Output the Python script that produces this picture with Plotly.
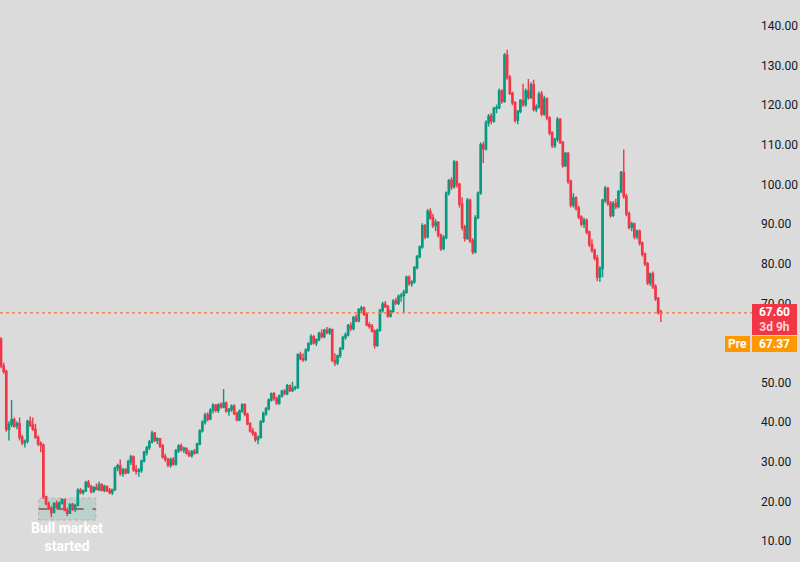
import plotly.graph_objects as go

# ---- data ----
open_ = [61, 54.2, 52.8, 38.2, 39.4, 40.6, 39, 39.6, 36.2, 34.8, 35.2, 40.2, 39.2, 38.2, 36.2, 34.6, 34.2,
         21.2, 19.4, 18.2, 17.2, 19.5, 18.5, 19.6, 20.4, 17.8, 17, 19.2, 18, 19,
         22.8, 22.2, 22.7, 24.8, 23.8, 22.5, 23.5, 23, 24.2, 22.8, 23.8, 22.7, 22.2, 23, 28.4, 29, 27, 28, 27.2,
         30, 31.2, 28, 27.6, 27.8, 30.2, 32.4, 33.6, 35, 37.2, 35.4, 35.8, 34, 31.2, 30.6, 29.2, 30.6, 29.4,
         32.8, 34, 33, 33.4, 32.2, 31.6, 32.6, 32.2, 34.5, 37.8, 40, 41.8, 40.8, 43, 44.2, 43, 44.4, 43.8,
         44.8, 42.8, 43.2, 44, 42.2, 40.6, 42.8, 44.4, 42, 39.6, 37.8, 37.2, 35.6, 36.2, 40.2, 42.2, 43.4,
         45.6, 47.2, 46, 44.8, 46.6, 47.8, 47.2, 49.2, 48, 48.6, 48.8, 57, 56, 55.8, 58.2, 59.8, 61.6, 60,
         60.8, 62.4, 61.6, 63.2, 62.6, 63.4, 55.6, 55, 56.8, 58.6, 61.4, 62, 64.4, 63.6, 66.4, 65.6, 68.4,
         68.8, 67.2, 64.6, 64.2, 63, 59.4, 63.2, 68.2, 69.8, 69.2, 66.8, 68, 70.6, 70, 71.8, 72, 72.8, 76.6,
         75, 75.4, 79, 81.8, 84.2, 89.6, 86.8, 93.2, 91.6, 89.6, 90.4, 87.2, 83.8, 86.6, 97.8, 101, 99.4,
         105.6, 100, 95, 89.2, 86.4, 96, 85.8, 83, 91.6, 97.8, 110, 109, 115.6, 117.2, 116, 119.2, 119.4,
         123.6, 121, 132.6, 127, 123, 120.6, 116.2, 118.4, 121.2, 120.2, 123.6, 122, 125.2, 119, 119.6,
         122.8, 117.8, 121.6, 116.8, 113, 109.8, 111.4, 116.4, 110.6, 104.8, 107.8, 100.8, 94.8, 96.6, 94,
         91.8, 90, 91, 88, 84.8, 83.4, 81.4, 76.6, 78.8, 96, 99, 95.2, 92.2, 95.2, 94.4, 98.2, 103, 97, 92.6,
         89.2, 90, 86.8, 88.2, 85.2, 82.4, 80, 75.2, 77.4, 74.2, 71.2, 67.8]
high = [61.4, 55, 53.2, 40.2, 45.6, 41.2, 40.2, 41.2, 36.8, 35.6, 40.6, 41.4, 41.2, 39.6, 36.6, 35.2, 34.6,
        21.4, 20, 18.8, 19.8, 20.2, 20, 20.8, 20.6, 18.4, 19.5, 19.6, 19.4, 23.3,
        23.4, 23, 25.2, 25.4, 24.2, 23.8, 24.5, 25, 24.6, 24.2, 24, 23.4, 23.2, 28.8, 29.5, 30.6, 28.5, 28.4, 30.5,
        31.8, 31.6, 29.2, 28.4, 30.5, 32.8, 34, 35.5, 37.8, 37.5, 36.2, 36, 34.5, 32, 31, 31, 31.2, 33.2,
        34.4, 34.6, 33.8, 33.6, 33, 33, 33.2, 34.8, 38.2, 40.5, 42.4, 42.5, 43.5, 44.8, 44.6, 44.8, 45, 48.4,
        45.2, 43.6, 44.5, 44.5, 42.6, 43.2, 44.8, 44.8, 42.4, 40, 38.6, 37.6, 36.6, 40.5, 42.6, 43.8, 46,
        47.5, 47.6, 46.4, 47, 48.2, 48.4, 49.6, 49.5, 50.2, 49.2, 57.4, 57.8, 57.4, 58.6, 60.2, 62.2, 62,
        61.2, 62.8, 63.4, 63.6, 64, 63.8, 63.6, 57.4, 57, 59, 61.8, 62.6, 64.8, 65.2, 66.8, 67.2, 68.8,
        69.4, 69.2, 67.6, 65.2, 64.8, 63.4, 63.6, 68.6, 70.4, 70.6, 69.6, 68.4, 71, 71.4, 72.2, 72.6, 73.4, 77,
        77, 75.8, 79.4, 82.2, 84.6, 90.2, 90, 93.8, 94, 92.6, 91.2, 90.8, 87.6, 87.2, 98.2, 101.4, 101.8,
        106.2, 106, 100.4, 96.8, 89.8, 96.6, 96.4, 86.4, 92.2, 98.2, 110.6, 110.8, 116.2, 117.8, 118, 119.6, 120.2,
        124.2, 124, 133.2, 134, 127.6, 123.4, 121, 118.8, 121.6, 125.4, 124.2, 126.6, 125.8, 126.4, 120.2,
        123.4, 123.6, 122.4, 122, 117.2, 113.4, 111.8, 117, 116.8, 111, 108.2, 108.2, 101.2, 97.8, 97,
        94.6, 92.2, 91.6, 91.4, 88.4, 86.2, 83.8, 82.2, 79.4, 96.4, 99.6, 99.4, 95.8, 95.8, 96.4, 98.6, 103.4, 108.8,
        97.6, 93.2, 90.6, 90.4, 88.6, 88.6, 85.6, 82.8, 80.4, 77.8, 78, 74.8, 71.6, 68.4]
low = [53.6, 52.2, 37.6, 35.4, 38.8, 38.6, 38.2, 35.4, 34.2, 33.6, 34.6, 38.8, 37.8, 35.8, 34, 32.4, 20.6,
       19, 17.8, 16, 17, 18.2, 18.2, 19.2, 17.5, 16.3, 16.8, 17.6, 17.3, 18.8,
       21.8, 21.7, 22.4, 23.4, 22, 22.2, 22.8, 22.6, 22.5, 22.3, 22.4, 21.8, 21.6, 22.6, 27.6, 26.5, 26.2, 26.8, 27,
       29.2, 27.5, 26.8, 26.2, 27.2, 29.8, 31.6, 33, 34.6, 35, 34.5, 33.5, 30.8, 30, 28.6, 28.5, 29, 29,
       32.2, 32.6, 32.2, 31.8, 31.2, 31, 31.8, 32, 34.2, 37.4, 39.4, 40.2, 40.5, 42.2, 42.5, 42.3, 43.4, 43.5,
       42.4, 41.6, 42.6, 41.8, 40.2, 40.2, 42.4, 41.5, 39.2, 37.4, 36.5, 35, 34.4, 35.8, 39.8, 41.6, 43,
       45.2, 45.4, 44.4, 44.4, 46.2, 46.8, 46.8, 47.6, 47.6, 48, 48.4, 55.6, 55.2, 55.4, 57.8, 59.4, 59.6,
       59.2, 60.4, 61.2, 61.2, 62.2, 62, 55.2, 54.2, 54.4, 56.2, 58.2, 60.8, 61.6, 63, 63.2, 65.2, 65.2,
       67.6, 66.8, 64.2, 63.6, 62.6, 58.6, 59, 62.8, 67.6, 68.8, 66.4, 66.4, 67.6, 69.6, 69.6, 70.4, 67.6, 72.4,
       74.4, 74.2, 75, 78.6, 81.4, 83.8, 86.2, 86.4, 91, 89, 88.2, 86.6, 83.2, 83.4, 86.2, 97.2, 98.6,
       99, 99.2, 94.2, 88.4, 85.6, 86, 85.2, 82.4, 82.6, 91.2, 97.4, 105.4, 108.6, 114.6, 115.2, 115.6, 118,
       119, 120.4, 120.6, 126.4, 122.6, 120, 115.6, 115.2, 118, 119.6, 119.6, 121.4, 121.6, 118.4, 118.2,
       119.2, 117.2, 117.4, 116.2, 112.4, 109.2, 109.2, 110.8, 110.2, 104.2, 104.4, 100.2, 94.2, 94.2, 93.4,
       91.2, 89.4, 89, 87.4, 84.2, 82.8, 80.8, 75.6, 75.4, 76.6, 95.4, 94.6, 91.6, 91.8, 93.8, 94, 97.8, 96.4,
       92, 88.6, 88.2, 86.2, 86.2, 84.6, 81.8, 79.4, 74.6, 74.4, 73.6, 70.6, 67.2, 65.3]
close = [54.2, 52.8, 38.2, 39.4, 40.6, 39, 39.6, 36.2, 34.8, 35.2, 40.2, 39.2, 38.2, 36.2, 34.6, 34.2, 21.2,
         19.4, 18.2, 17.2, 19.5, 18.5, 19.6, 20.4, 17.8, 17, 19.2, 18, 19, 22.8,
         22.2, 22.7, 24.8, 23.8, 22.5, 23.5, 23, 24.2, 22.8, 23.8, 22.7, 22.2, 23, 28.4, 29, 27, 28, 27.2, 30,
         31.2, 28, 27.6, 27.8, 30.2, 32.4, 33.6, 35, 37.2, 35.4, 35.8, 34, 31.2, 30.6, 29.2, 30.6, 29.4, 32.8,
         34, 33, 33.4, 32.2, 31.6, 32.6, 32.2, 34.5, 37.8, 40, 41.8, 40.8, 43, 44.2, 43, 44.4, 43.8, 44.8,
         42.8, 43.2, 44, 42.2, 40.6, 42.8, 44.4, 42, 39.6, 37.8, 37.2, 35.6, 36.2, 40.2, 42.2, 43.4, 45.6,
         47.2, 46, 44.8, 46.6, 47.8, 47.2, 49.2, 48, 48.6, 48.8, 57, 56, 55.8, 58.2, 59.8, 61.6, 60, 60.8,
         62.4, 61.6, 63.2, 62.6, 63.4, 55.6, 55, 56.8, 58.6, 61.4, 62, 64.4, 63.6, 66.4, 65.6, 68.4, 68.8,
         67.2, 64.6, 64.2, 63, 59.4, 63.2, 68.2, 69.8, 69.2, 66.8, 68, 70.6, 70, 71.8, 72, 72.8, 76.6, 75,
         75.4, 79, 81.8, 84.2, 89.6, 86.8, 93.2, 91.6, 89.6, 90.4, 87.2, 83.8, 86.6, 97.8, 101, 99.4, 105.6,
         100, 95, 89.2, 86.4, 96, 85.8, 83, 91.6, 97.8, 110, 109, 115.6, 117.2, 116, 119.2, 119.4, 123.6,
         121, 132.6, 127, 123, 120.6, 116.2, 118.4, 121.2, 120.2, 123.6, 122, 125.2, 119, 119.6, 122.8,
         117.8, 121.6, 116.8, 113, 109.8, 111.4, 116.4, 110.6, 104.8, 107.8, 100.8, 94.8, 96.6, 94, 91.8,
         90, 91, 88, 84.8, 83.4, 81.4, 76.6, 78.8, 96, 99, 95.2, 92.2, 95.2, 94.4, 98.2, 103, 97, 92.6, 89.2,
         90, 86.8, 88.2, 85.2, 82.4, 80, 75.2, 77.4, 74.2, 71.2, 67.8, 67.6]

# 60.00 is hidden behind the price labels in the reference, so it is not listed
tick_values = [10, 20, 30, 40, 50, 70, 80, 90, 100, 110, 120, 130, 140]
tick_labels = [f"{v:.2f}" for v in tick_values]

last_price = 67.60
pre_price = 67.37
countdown = "3d 9h"

# "Bull market started" marker (candle index span, price span)
box_x = [14.2, 35.8]
box_y = [15.3, 20.8]
box_mid = 18.1

GREEN = "#089981"
RED = "#f23645"
ORANGE = "#ff9800"
BG = "#dbdbdb"
FONT = "Roboto"

n = len(close)
xs = list(range(n))
step_px = 2.65
plot_w = 752

fig = go.Figure(go.Candlestick(
    x=xs, open=open_, high=high, low=low, close=close,
    increasing=dict(line=dict(color=GREEN, width=1.4), fillcolor=GREEN),
    decreasing=dict(line=dict(color=RED, width=1.4), fillcolor=RED),
    whiskerwidth=0, hoverinfo="skip", showlegend=False,
))

x0 = -1 / step_px
fig.update_layout(
    width=800, height=562,
    margin=dict(l=0, r=48, t=0, b=0),
    paper_bgcolor=BG, plot_bgcolor=BG,
    font=dict(family=FONT, color="#131722"),
    xaxis=dict(range=[x0, x0 + plot_w / step_px], visible=False,
               rangeslider=dict(visible=False), showgrid=False),
    yaxis=dict(range=[4.7, 146.56], side="right", tickvals=tick_values, ticktext=tick_labels,
               showgrid=False, zeroline=False, showline=False, ticks="",
               tickfont=dict(size=12, color="#131722", family=FONT),
               ticklabelstandoff=8),
    showlegend=False,
)

# price line
fig.add_shape(type="line", xref="paper", yref="y", x0=0, x1=1, y0=last_price, y1=last_price,
              line=dict(color="#f4743b", width=1.2, dash="dot"))

# bull market box
fig.add_shape(type="rect", xref="x", yref="y", x0=box_x[0], x1=box_x[1], y0=box_y[0], y1=box_y[1],
              fillcolor="rgba(8,153,129,0.15)", line=dict(color="rgba(200,120,130,0.55)", width=1, dash="dot"),
              layer="below")
fig.add_shape(type="line", xref="x", yref="y", x0=box_x[0], x1=box_x[1], y0=box_mid, y1=box_mid,
              line=dict(color="rgba(150,80,85,0.8)", width=2, dash="dash"), layer="below")
fig.add_annotation(x=(box_x[0] + box_x[1]) / 2, y=11.0, xref="x", yref="y",
                   text="<b>Bull market<br>started</b>", showarrow=False,
                   font=dict(family=FONT, size=14, color="white"), align="center")

# right price labels
H = 562
def py(p):
    return 1 - p / H

fig.add_annotation(xref="paper", yref="paper", x=1.0, y=py(304), xanchor="left", yanchor="top",
                   width=45, height=31, borderpad=0, borderwidth=0, bgcolor=RED, showarrow=False,
                   text=f"<b>{last_price:.2f}</b><br><span style='color:#ffd3d8'><b>{countdown}</b></span>",
                   font=dict(family=FONT, size=12, color="white"), align="center")
fig.add_annotation(xref="paper", yref="paper", x=1.0, y=py(336), xanchor="left", yanchor="top",
                   width=45, height=16, borderpad=0, borderwidth=0, bgcolor=ORANGE, showarrow=False,
                   text=f"<b>{pre_price:.2f}</b>", font=dict(family=FONT, size=12, color="white"), align="center")
fig.add_annotation(xref="paper", yref="paper", x=750 / plot_w, y=py(336), xanchor="right", yanchor="top",
                   width=25, height=16, borderpad=0, borderwidth=0, bgcolor=ORANGE, showarrow=False,
                   text="<b>Pre</b>", font=dict(family=FONT, size=12, color="white"), align="center")

fig.write_html("out.html")
